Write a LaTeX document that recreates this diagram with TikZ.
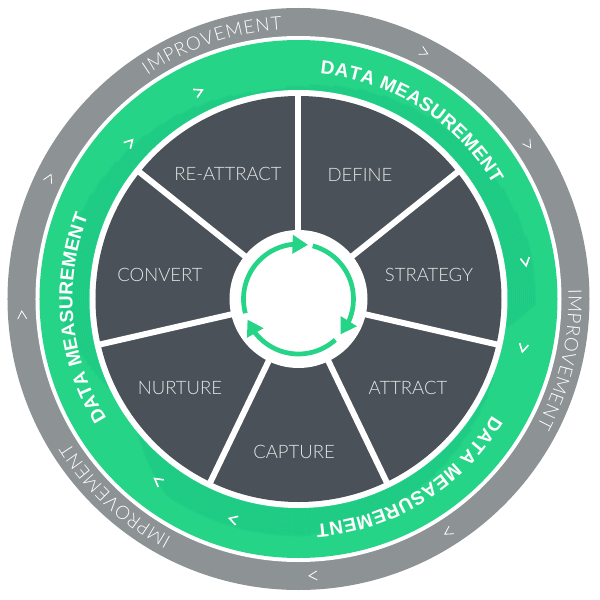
\documentclass[tikz,border=0pt]{standalone}
\usepackage{fontspec}
\setmainfont{Liberation Sans}
\newfontfamily\thinfont{Lato}[UprightFont=* Light]
\usetikzlibrary{arrows.meta,bending,decorations.text}

\definecolor{ringgray}{HTML}{8D9295}
\definecolor{ringgreen}{HTML}{25D486}
\definecolor{ringshade}{HTML}{07A883}
\definecolor{wedge}{HTML}{4A5158}

\tikzset{
	wedgelabel/.style={text=white!90!black, font=\thinfont\fontsize{18.5}{18.5}\selectfont},
	divider/.style={draw=white, line width=6pt},
	cycle/.style={draw=ringgreen, line width=4.7pt, -{Triangle[length=15.5pt,width=18pt]}},
	bandlabel/.style={decorate, decoration={text along path, text align={fit to path},
		text={|\bfseries\fontsize{19}{19}\selectfont\color{white}|#1}}},
	outerlabel/.style={decorate, decoration={text along path, text align={fit to path},
		text={|\thinfont\fontsize{18.6}{18.6}\selectfont\color{white}|#1}}},
	outerchev/.style={draw=white, line width=.8pt},
	bandchev/.style={draw=white, line width=1.6pt},
}

\begin{document}
\begin{tikzpicture}[x=1pt,y=1pt]
	\useasboundingbox (-298.5,-301) rectangle (301.5,299);

	\coordinate (o) at (0,0);

	% rings
	\fill [ringgray] (o) circle [radius=291];
	\fill [white] (o) circle [radius=263];
	\fill [ringgreen] (o) circle [radius=259];

	% dark swooshes on the inner edge of the green band
	\foreach \a/\b/\sa/\sb in {100/-8/6.5/.5, -22/-140/5/1.2, 205/98/1.5/5}
		\foreach \k in {0,...,13}
			\draw [ringshade, opacity=.13, line width=2.6pt]
				({\a-\k*\sa}:{210+\k*2}) arc [start angle={\a-\k*\sa}, end angle={\b+\k*\sb}, radius={210+\k*2}];

	\fill [white] (o) circle [radius=209];
	\fill [wedge] (o) circle [radius=203];

	% dividers
	\foreach \ang [count=\i] in {90,38.6,-12.9,-64.3,-115.7,-167.1,141.4} {
		\coordinate (in\i) at (\ang:66);
		\coordinate (out\i) at (\ang:206);
		\draw [divider] (in\i) -- (out\i);
	}
	\fill [white] (o) circle [radius=69];

	% centre arrows
	\draw [cycle] (195:55) arc [start angle=195, end angle=80, radius=55];
	\draw [cycle] (75:55) arc [start angle=75, end angle=-40, radius=55];
	\draw [cycle] (-48:55) arc [start angle=-48, end angle=-158, radius=55];

	% wedges
	\node [wedgelabel] (define) at (61.5,124) {DEFINE};
	\node [wedgelabel] (strategy) at (130.5,24) {STRATEGY};
	\node [wedgelabel] (attract) at (109.5,-89) {ATTRACT};
	\node [wedgelabel] (capture) at (-4.5,-153) {CAPTURE};
	\node [wedgelabel] (nurture) at (-118.5,-89) {NURTURE};
	\node [wedgelabel] (convert) at (-138.5,24) {CONVERT};
	\node [wedgelabel] (reattract) at (-70.5,125) {RE-ATTRACT};

	% band texts
	\path [bandlabel=DATA MEASUREMENT] (84.5:226) arc [start angle=84.5, end angle=30.5, radius=226];
	\path [bandlabel=DATA MEASUREMENT] (-31:226) arc [start angle=-31, end angle=-85.5, radius=226];
	\path [bandlabel=DATA MEASUREMENT] (212:226) arc [start angle=212, end angle=158.5, radius=226];

	\path [outerlabel=IMPROVEMENT] (124:270) arc [start angle=124, end angle=93.5, radius=270];
	\path [outerlabel=IMPROVEMENT] (2:270) arc [start angle=2, end angle=-28, radius=270];
	\path [outerlabel=IMPROVEMENT] (242:270) arc [start angle=242, end angle=212, radius=270];

	% chevrons
	\foreach \ang in {63,33.9,-57.3,-87,183.3,154.1}
		\draw [outerchev, shift={(\ang:277)}, rotate=\ang-90] (-4,4.5) -- (4,0) -- (-4,-4.5);
	\foreach \ang in {9.3,-12.3,253.5,232.3,137.2,115.7}
		\draw [bandchev, shift={(\ang:230)}, rotate=\ang-90] (-4,4.5) -- (4,0) -- (-4,-4.5);
\end{tikzpicture}
\end{document}
